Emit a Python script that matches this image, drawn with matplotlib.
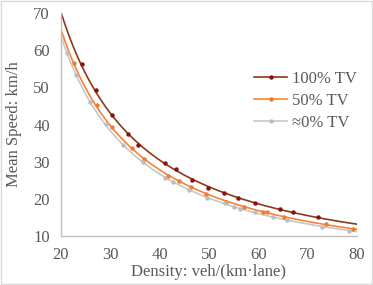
import numpy as np
import matplotlib
matplotlib.use("Agg")
import matplotlib.pyplot as plt
from matplotlib.patches import Rectangle

plt.rcParams["font.family"] = ["Liberation Serif", "DejaVu Serif"]

TEXT = "#595959"
AXIS = "#bfbfbf"

# measured points per truck-vehicle share
k_100 = [24.2, 27.0, 30.3, 33.5, 35.6, 41.0, 43.3, 46.6, 49.9, 53.0, 55.8, 59.4, 64.4, 67.0, 72.2]
v_100 = [56.4, 49.3, 42.7, 37.5, 34.4, 29.7, 27.9, 25.0, 23.0, 21.5, 20.1, 18.8, 17.3, 16.5, 15.1]

k_50 = [22.6, 27.2, 30.3, 34.3, 36.8, 41.6, 44.0, 46.4, 49.4, 53.4, 57.2, 61.0, 61.8, 65.3, 73.7, 79.2]
v_50 = [56.5, 45.2, 39.3, 33.8, 30.7, 26.2, 24.8, 23.1, 21.2, 19.2, 17.8, 16.5, 16.4, 15.2, 13.1, 12.0]

k_0 = [21.2, 23.0, 25.9, 29.1, 32.6, 36.7, 41.1, 42.7, 45.9, 49.7, 53.3, 55.1, 56.3, 59.4, 62.9, 65.8, 73.0, 78.3]
v_0 = [59.2, 53.3, 46.1, 40.1, 34.6, 29.8, 25.7, 24.4, 22.4, 20.1, 18.8, 17.9, 17.3, 16.4, 15.2, 14.3, 12.5, 11.4]

series = [
    ("100% TV", k_100, v_100, "#8b3a1a", "#8b1010"),
    ("50% TV", k_50, v_50, "#f4843a", "#ed7d31"),
    ("\u22480% TV", k_0, v_0, "#c8c8c8", "#bdbdbd"),
]

fig = plt.figure(figsize=(3.73, 2.85), dpi=100)
ax = fig.add_axes([0.1635, 0.172, 0.7935, 0.782])

kk = np.linspace(20, 80, 200)
for label, k, v, lc, mc in series:
    # power trendline fitted in log-log space
    b, a = np.polyfit(np.log(k), np.log(v), 1)
    ax.plot(kk, np.exp(a) * kk ** b, color=lc, lw=1.2, zorder=2)
    ax.plot(k, v, "o", ms=3.2, color=mc, mec="none", zorder=3)
    ax.plot([], [], color=lc, lw=1.2, marker="o", ms=3.2, mfc=mc, mec="none", label=label)

ax.set_xlim(20, 80)
ax.set_ylim(10, 70)
ax.set_xticks(range(20, 81, 10))
ax.set_yticks(range(10, 71, 10))
for s in ["top", "right"]:
    ax.spines[s].set_visible(False)
for s in ["left", "bottom"]:
    ax.spines[s].set_color(AXIS)
    ax.spines[s].set_linewidth(1.0)
ax.tick_params(length=0, colors=TEXT, labelsize=12, pad=8)

ax.set_xlabel("Density: veh/(km\u00b7lane)", color=TEXT, fontsize=12, labelpad=1)
ax.set_ylabel("Mean Speed: km/h", color=TEXT, fontsize=12, labelpad=8)

leg = ax.legend(loc="upper left", bbox_to_anchor=(0.63, 0.77), frameon=False,
                fontsize=12, handlelength=2.0, handletextpad=0.3,
                labelspacing=0.35, borderaxespad=0)
for t in leg.get_texts():
    t.set_color(TEXT)

fig.patches.append(Rectangle((0.002, 0.003), 0.995, 0.993, transform=fig.transFigure,
                             fill=False, edgecolor="#d9d9d9", lw=1.0))

fig.savefig("out.png", dpi=100, facecolor="white")
